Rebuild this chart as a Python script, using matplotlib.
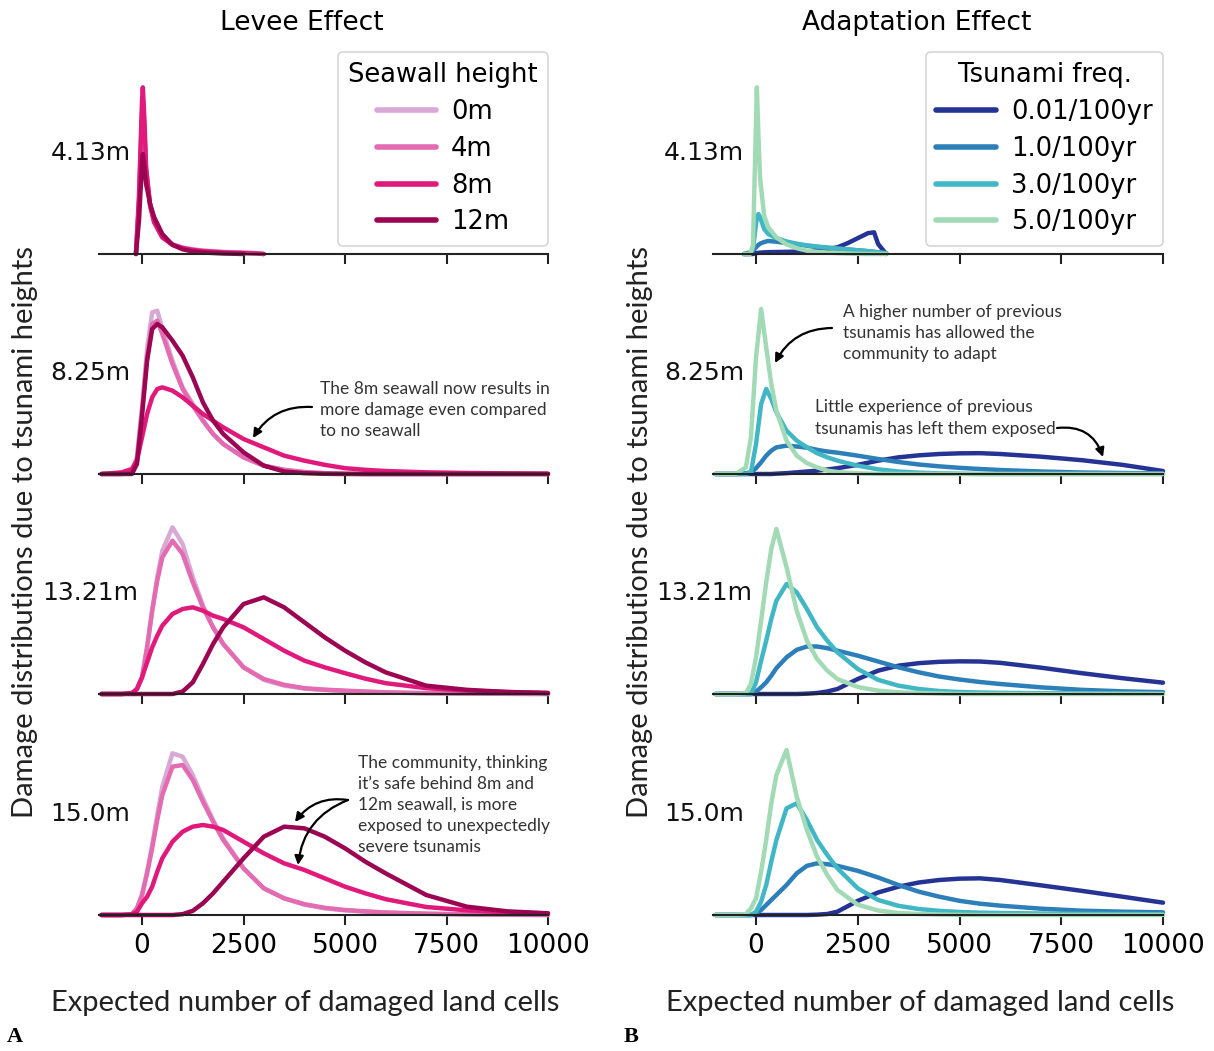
import numpy as np
import matplotlib
matplotlib.use('Agg')
import matplotlib.pyplot as plt

# --- labels / colours ---
HEIGHTS = ['4.13m', '8.25m', '13.21m', '15.0m']
SEAWALL_LABELS = ['0m', '4m', '8m', '12m']
FREQ_LABELS = ['0.01/100yr', '1.0/100yr', '3.0/100yr', '5.0/100yr']
LEVEE_COLORS = ['#d9a9d5', '#e36bb1', '#e0197b', '#9b0551']
ADAPT_COLORS = ['#253494', '#2c7fb8', '#41b6c4', '#a1dab4']
XTICKS = [0, 2500, 5000, 7500, 10000]

# --- x grids (expected number of damaged land cells) ---
X_SPIKE_LEVEE = [-150, -75, 0, 20, 60, 100, 200, 300, 500, 750, 1000, 1250, 1500, 2000, 2500, 2800, 3000]
X_SPIKE_ADAPT = [-300, -150, -75, 0, 20, 60, 100, 200, 300, 500, 750, 1000, 1250, 1500, 2000, 2250, 2500, 2750, 2900, 3000, 3200]
X_GRID = [-1000, -500, -250, -125, 0, 125, 250, 375, 500, 750, 1000, 1250, 1500, 1750, 2000,
          2500, 3000, 3500, 4000, 4500, 5000, 5500, 6000, 7000, 8000, 9000, 10000]

# --- density curves, scaled so the tallest curve of each row = 1 ---
# levee effect: 0m, 4m, 8m, 12m seawall
LEVEE_413 = [
    [0, 0.3, 0.82, 0.9, 0.72, 0.49, 0.29, 0.19, 0.10, 0.058, 0.04, 0.028, 0.021, 0.013, 0.009, 0.006, 0],
    [0, 0.3, 0.85, 0.93, 0.75, 0.50, 0.29, 0.19, 0.10, 0.056, 0.037, 0.026, 0.019, 0.011, 0.007, 0.004, 0],
    [0, 0.35, 0.92, 1.0, 0.80, 0.52, 0.29, 0.19, 0.10, 0.055, 0.035, 0.024, 0.017, 0.009, 0.005, 0.003, 0],
    [0, 0.2, 0.55, 0.60, 0.52, 0.42, 0.30, 0.22, 0.12, 0.055, 0.028, 0.015, 0.009, 0.003, 0, None, None],
]
LEVEE_825 = [
    [0, 0, 0.02, 0.10, 0.40, 0.75, 0.97, 0.98, 0.87, 0.68, 0.52, 0.42, 0.32, 0.24, 0.18, 0.10, 0.05, 0.025, 0.01, 0.005, 0.002, 0, 0, 0, 0, 0, 0],
    [0, 0, 0.02, 0.09, 0.38, 0.70, 0.90, 0.92, 0.84, 0.66, 0.51, 0.41, 0.32, 0.24, 0.18, 0.10, 0.05, 0.025, 0.012, 0.005, 0.002, 0, 0, 0, 0, 0, 0],
    [0, 0.01, 0.03, 0.08, 0.22, 0.36, 0.46, 0.51, 0.52, 0.50, 0.46, 0.41, 0.36, 0.32, 0.28, 0.21, 0.16, 0.11, 0.08, 0.055, 0.035, 0.025, 0.018, 0.01, 0.006, 0.004, 0.002],
    [0, 0, 0, 0.06, 0.35, 0.68, 0.87, 0.90, 0.88, 0.80, 0.71, 0.58, 0.43, 0.32, 0.24, 0.13, 0.05, 0.015, 0.005, 0.001, 0, 0, 0, 0, 0, 0, 0],
]
LEVEE_1321 = [
    [0, 0, 0.005, 0.03, 0.10, 0.28, 0.50, 0.70, 0.86, 1.0, 0.90, 0.70, 0.53, 0.40, 0.30, 0.16, 0.085, 0.05, 0.032, 0.024, 0.018, 0.013, 0.009, 0.004, 0.002, 0.001, 0],
    [0, 0, 0.005, 0.03, 0.10, 0.28, 0.50, 0.68, 0.82, 0.92, 0.84, 0.67, 0.52, 0.40, 0.30, 0.16, 0.09, 0.055, 0.035, 0.026, 0.02, 0.015, 0.01, 0.005, 0.003, 0.001, 0],
    [0, 0, 0.005, 0.03, 0.10, 0.19, 0.28, 0.35, 0.41, 0.48, 0.51, 0.52, 0.50, 0.47, 0.45, 0.40, 0.33, 0.26, 0.20, 0.16, 0.125, 0.092, 0.065, 0.035, 0.02, 0.012, 0.006],
    [0, 0, 0, 0, 0, 0, 0, 0, 0, 0, 0.015, 0.07, 0.18, 0.30, 0.40, 0.54, 0.58, 0.52, 0.43, 0.34, 0.26, 0.19, 0.13, 0.05, 0.025, 0.012, 0.006],
]
LEVEE_150 = [
    [0, 0, 0.005, 0.04, 0.12, 0.26, 0.42, 0.60, 0.77, 0.97, 0.95, 0.84, 0.70, 0.57, 0.46, 0.28, 0.16, 0.10, 0.062, 0.04, 0.028, 0.02, 0.014, 0.007, 0.003, 0.001, 0],
    [0, 0, 0.005, 0.04, 0.12, 0.25, 0.40, 0.57, 0.72, 0.89, 0.90, 0.81, 0.68, 0.56, 0.45, 0.28, 0.16, 0.10, 0.065, 0.043, 0.03, 0.022, 0.015, 0.008, 0.004, 0.002, 0],
    [0, 0, 0.003, 0.02, 0.07, 0.11, 0.17, 0.26, 0.34, 0.44, 0.50, 0.53, 0.54, 0.53, 0.51, 0.44, 0.37, 0.31, 0.27, 0.22, 0.17, 0.13, 0.095, 0.048, 0.028, 0.016, 0.01],
    [0, 0, 0, 0, 0, 0, 0, 0, 0, 0, 0.005, 0.025, 0.07, 0.13, 0.20, 0.34, 0.47, 0.53, 0.52, 0.47, 0.40, 0.32, 0.25, 0.12, 0.05, 0.022, 0.01],
]
# adaptation effect: 0.01, 1.0, 3.0, 5.0 tsunamis per 100yr
ADAPT_413 = [
    [0, 0, 0, 0.005, 0.006, 0.007, 0.008, 0.01, 0.011, 0.012, 0.013, 0.014, 0.016, 0.02, 0.04, 0.065, 0.095, 0.125, 0.13, 0.06, 0.0],
    [0, 0.01, 0.02, 0.04, 0.045, 0.055, 0.062, 0.072, 0.078, 0.074, 0.065, 0.058, 0.05, 0.042, 0.032, 0.027, 0.022, 0.017, 0.013, 0.01, 0.004],
    [0, 0, 0.03, 0.18, 0.22, 0.24, 0.22, 0.15, 0.12, 0.095, 0.075, 0.062, 0.052, 0.045, 0.033, 0.028, 0.022, 0.017, 0.013, 0.01, 0.005],
    [0, 0, 0.05, 0.80, 1.0, 0.70, 0.45, 0.23, 0.16, 0.10, 0.058, 0.035, 0.02, 0.013, 0.005, 0.003, 0.001, 0, 0, 0, 0],
]
ADAPT_825 = [
    [0, 0, 0, 0, 0, 0, 0, 0, 0.002, 0.005, 0.01, 0.015, 0.02, 0.027, 0.035, 0.055, 0.08, 0.10, 0.112, 0.12, 0.124, 0.125, 0.12, 0.104, 0.083, 0.055, 0.018],
    [0, 0, 0.005, 0.01, 0.035, 0.07, 0.11, 0.14, 0.16, 0.17, 0.165, 0.158, 0.145, 0.135, 0.128, 0.11, 0.09, 0.072, 0.057, 0.046, 0.037, 0.03, 0.024, 0.015, 0.009, 0.006, 0.004],
    [0, 0, 0, 0.01, 0.18, 0.42, 0.51, 0.45, 0.37, 0.26, 0.20, 0.16, 0.125, 0.10, 0.08, 0.05, 0.028, 0.015, 0.008, 0.004, 0.002, 0, 0, 0, 0, 0, 0],
    [0, 0, 0.04, 0.22, 0.70, 0.99, 0.76, 0.54, 0.38, 0.20, 0.11, 0.065, 0.04, 0.02, 0.012, 0.004, 0.001, 0, 0, 0, 0, 0, 0, 0, 0, 0, 0],
]
ADAPT_1321 = [
    [0, 0, 0, 0, 0, 0, 0, 0, 0, 0, 0, 0.002, 0.006, 0.015, 0.03, 0.09, 0.14, 0.17, 0.185, 0.193, 0.196, 0.195, 0.187, 0.158, 0.125, 0.095, 0.068],
    [0, 0, 0, 0, 0.015, 0.04, 0.07, 0.11, 0.155, 0.22, 0.265, 0.285, 0.285, 0.275, 0.26, 0.23, 0.195, 0.16, 0.13, 0.105, 0.087, 0.072, 0.06, 0.04, 0.025, 0.016, 0.011],
    [0, 0, 0, 0, 0.07, 0.20, 0.32, 0.45, 0.56, 0.66, 0.61, 0.51, 0.40, 0.32, 0.25, 0.15, 0.085, 0.05, 0.03, 0.018, 0.012, 0.009, 0.007, 0.005, 0.004, 0.003, 0.002],
    [0, 0, 0.005, 0.06, 0.22, 0.44, 0.67, 0.87, 0.99, 0.76, 0.50, 0.32, 0.21, 0.14, 0.09, 0.042, 0.02, 0.01, 0.006, 0.003, 0, 0, 0, 0, 0, 0, 0],
]
ADAPT_150 = [
    [0, 0, 0, 0, 0, 0, 0, 0, 0, 0, 0, 0, 0.002, 0.006, 0.02, 0.085, 0.135, 0.17, 0.195, 0.21, 0.218, 0.22, 0.21, 0.178, 0.145, 0.11, 0.074],
    [0, 0, 0, 0, 0.01, 0.03, 0.06, 0.09, 0.12, 0.18, 0.25, 0.295, 0.31, 0.305, 0.295, 0.265, 0.225, 0.18, 0.14, 0.11, 0.085, 0.068, 0.056, 0.038, 0.026, 0.02, 0.016],
    [0, 0, 0, 0, 0.02, 0.08, 0.18, 0.32, 0.45, 0.64, 0.67, 0.57, 0.45, 0.36, 0.28, 0.16, 0.09, 0.055, 0.036, 0.025, 0.018, 0.014, 0.012, 0.009, 0.007, 0.006, 0.005],
    [0, 0, 0.005, 0.04, 0.10, 0.26, 0.45, 0.67, 0.84, 0.99, 0.71, 0.51, 0.35, 0.24, 0.15, 0.062, 0.027, 0.012, 0.006, 0.003, 0.001, 0, 0, 0, 0, 0, 0],
]

LEVEE_ROWS = [(X_SPIKE_LEVEE, LEVEE_413), (X_GRID, LEVEE_825), (X_GRID, LEVEE_1321), (X_GRID, LEVEE_150)]
ADAPT_ROWS = [(X_SPIKE_ADAPT, ADAPT_413), (X_GRID, ADAPT_825), (X_GRID, ADAPT_1321), (X_GRID, ADAPT_150)]

# --- layout (figure fractions) ---
FIG_W, FIG_H = 1214, 1051
COL_LEFT = [99.4 / FIG_W, 713.3 / FIG_W]
COL_WIDTH = [448.6 / FIG_W, 449.7 / FIG_W]
ROW_BASE = [254, 474, 694, 915]
AX_H = 200
XLIM = (-1050, 10000)
YLIM = (0, 1.2)

ANNOT_FONT = ['Lato', 'DejaVu Sans']
LABEL_FONT = ['Lato', 'DejaVu Sans']

fig = plt.figure(figsize=(FIG_W / 100, FIG_H / 100), dpi=100)


def make_column(col, rows, colors, labels, legend_title):
    axes = []
    for r, (xs, curves) in enumerate(rows):
        bottom = 1 - ROW_BASE[r] / FIG_H
        ax = fig.add_axes([COL_LEFT[col], bottom, COL_WIDTH[col], AX_H / FIG_H])
        for ys, c, lab in zip(curves, colors, labels):
            y = np.array([np.nan if v is None else v for v in ys], dtype=float)
            ax.plot(xs, y, color=c, lw=3.2, label=lab, solid_capstyle='round',
                    solid_joinstyle='round', clip_on=False)
        ax.set_xlim(*XLIM)
        ax.set_ylim(*YLIM)
        for s in ['top', 'right', 'left']:
            ax.spines[s].set_visible(False)
        ax.spines['bottom'].set_linewidth(1.5)
        ax.spines['bottom'].set_color('#222222')
        ax.set_yticks([])
        ax.set_xticks(XTICKS)
        ax.set_xticklabels([str(t) for t in XTICKS])
        ax.tick_params(axis='x', length=7, width=1.5, color='#222222', labelsize=19, pad=6,
                       labelbottom=(r == len(rows) - 1))
        ax.patch.set_alpha(0)
        ax.text(-0.02, 0.505, HEIGHTS[r], transform=ax.transAxes, ha='center', va='center',
                fontsize=18, color='#111111')
        axes.append(ax)
    leg = axes[0].legend(title=legend_title, loc='upper right', bbox_to_anchor=(1.0, 1.01),
                         borderaxespad=0, fontsize=18.5, title_fontsize=18.5, handlelength=2.3,
                         handletextpad=0.6, labelspacing=0.42, frameon=True, fancybox=True,
                         borderpad=0.4)
    leg.get_frame().set_edgecolor('#cccccc')
    leg.get_frame().set_linewidth(1.2)
    for line in leg.get_lines():
        line.set_linewidth(4)
    return axes


levee_axes = make_column(0, LEVEE_ROWS, LEVEE_COLORS, SEAWALL_LABELS, 'Seawall height')
adapt_axes = make_column(1, ADAPT_ROWS, ADAPT_COLORS, FREQ_LABELS, 'Tsunami freq.')

# column titles
fig.text(302 / FIG_W, 1 - 23 / FIG_H, 'Levee Effect', ha='center', va='center', fontsize=19)
fig.text(917 / FIG_W, 1 - 23 / FIG_H, 'Adaptation Effect', ha='center', va='center', fontsize=19)

# axis labels
for cx in [305, 920]:
    fig.text(cx / FIG_W, 1 - 1003 / FIG_H, 'Expected number of damaged land cells',
             ha='center', va='center', fontsize=21, family=LABEL_FONT, color='#222222')
for cx in [25, 640]:
    fig.text(cx / FIG_W, 1 - 532 / FIG_H, 'Damage distributions due to tsunami heights',
             ha='center', va='center', rotation=90, fontsize=21, family=LABEL_FONT, color='#222222')

fig.text(15 / FIG_W, 1 - 1037 / FIG_H, 'A', ha='center', va='center', fontsize=16,
         family='Liberation Serif', weight='bold')
fig.text(631 / FIG_W, 1 - 1037 / FIG_H, 'B', ha='center', va='center', fontsize=16,
         family='Liberation Serif', weight='bold')

# --- annotations ---
ARROW = dict(arrowstyle='-|>', color='black', lw=1.6, mutation_scale=13, shrinkA=0, shrinkB=0)
TXT = dict(ha='left', va='center', fontsize=12.5, family=ANNOT_FONT, color='#333333', linespacing=1.4)

ax = levee_axes[1]
ax.text(4384, 0.384, 'The 8m seawall now results in\nmore damage even compared\nto no seawall', **TXT)
ax.annotate('', xy=(2734, 0.216), xytext=(4187, 0.402),
            arrowprops=dict(ARROW, connectionstyle='arc3,rad=0.3'))

ax = levee_axes[3]
ax.text(5320, 0.66, 'The community, thinking\nit\u2019s safe behind 8m and\n12m seawall, is more\n'
        'exposed to unexpectedly\nsevere tsunamis', **TXT)
ax.annotate('', xy=(3768, 0.558), xytext=(5074, 0.69),
            arrowprops=dict(ARROW, connectionstyle='arc3,rad=0.3'))
ax.annotate('', xy=(3842, 0.30), xytext=(5074, 0.69),
            arrowprops=dict(ARROW, connectionstyle='arc3,rad=0.3'))

ax = adapt_axes[1]
ax.text(2138, 0.846, 'A higher number of previous\ntsunamis has allowed the\ncommunity to adapt', **TXT)
ax.annotate('', xy=(467, 0.666), xytext=(1867, 0.876),
            arrowprops=dict(ARROW, connectionstyle='arc3,rad=0.3'))
ax.text(1450, 0.336, 'Little experience of previous\ntsunamis has left them exposed', **TXT)
ax.annotate('', xy=(8526, 0.102), xytext=(7396, 0.276),
            arrowprops=dict(ARROW, connectionstyle='arc3,rad=-0.4'))

fig.savefig('out.png', dpi=100)
